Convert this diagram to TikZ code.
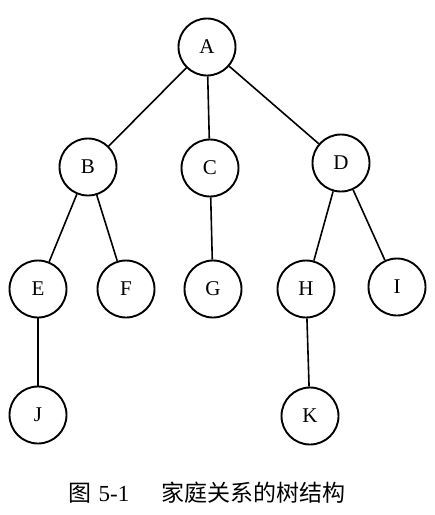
\documentclass[tikz,border=0pt]{standalone}
\usepackage{fontspec}
\setmainfont{Liberation Serif}
\newfontfamily\cjk{Noto Sans CJK SC}
\usetikzlibrary{calc}

\begin{document}
\begin{tikzpicture}[x=1pt,y=-1pt,
    person/.style={draw, circle, line width=1.9pt, minimum size=57pt, inner sep=0,
      font=\fontsize{21}{24}\selectfont},
    link/.style={line width=1.6pt}]
      \useasboundingbox (0,0) rectangle (435,515);

      \node [person] (a) at (207, 47) {A};

      \node [person] (b) at (88, 167) {B};
      \node [person] (c) at (210, 168) {C};
      \node [person] (d) at (341, 163) {D};

      \node [person] (e) at (38, 289) {E};
      \node [person] (f) at (126, 289) {F};
      \node [person] (g) at (213, 289) {G};
      \node [person] (h) at (306, 289) {H};
      \node [person] (i) at (397, 287) {I};

      \node [person] (j) at (38, 415) {J};
      \node [person] (k) at (310, 416) {K};

      \draw [link] (a)--(b);
      \draw [link] (a)--(c);
      \draw [link] (a)--(d);
      \draw [link] (b)--(e);
      \draw [link] (b)--(f);
      \draw [link] (c)--(g);
      \draw [link] (d)--(h);
      \draw [link] (d)--(i);
      \draw [link] (e)--(j);
      \draw [link] (h)--(k);

      \node [font=\fontsize{23}{26}\selectfont, inner sep=0] (cap) at (207, 493)
        {{\cjk 图}\hspace{7pt}5-1\hspace{32pt}{\cjk 家庭关系的树结构}};

  \end{tikzpicture}
\end{document}
